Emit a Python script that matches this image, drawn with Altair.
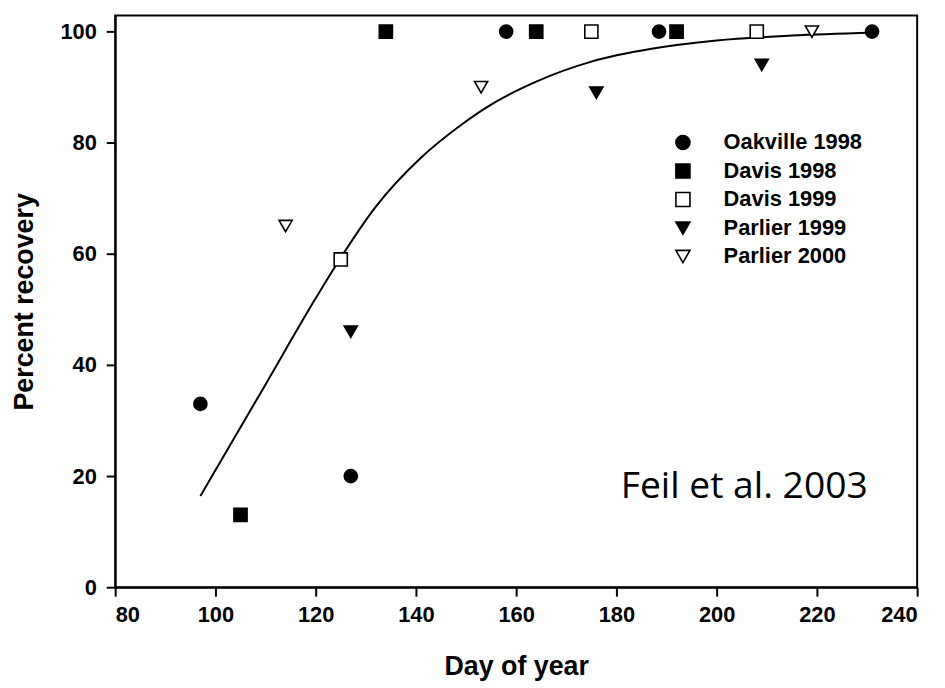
import altair as alt
import pandas as pd

# ---- data ----
series_names = ["Oakville 1998", "Davis 1998", "Davis 1999", "Parlier 1999", "Parlier 2000"]
series_shapes = ["circle", "square", "square", "triangle-down", "triangle-down"]
series_fills = ["black", "black", "white", "black", "white"]
series_strokes = ["black", "black", "black", "black", "black"]

oak98_day = [97, 127, 158, 188.5, 231]
oak98_pct = [33, 20, 100, 100, 100]
dav98_day = [105, 134, 164, 192]
dav98_pct = [13, 100, 100, 100]
dav99_day = [125, 175, 208]
dav99_pct = [59, 100, 100]
par99_day = [127, 176, 209]
par99_pct = [46, 89, 94]
par00_day = [114, 153, 219]
par00_pct = [65, 90, 100]

curve_day = [97, 110, 120, 125, 132, 141, 149, 156, 164, 175, 187, 200, 215, 231]
curve_pct = [16.4, 36.5, 52.0, 59.3, 68.5, 77.3, 83.2, 87.4, 91.0, 94.6, 96.9, 98.4, 99.3, 99.8]

note_text = ["Feil et al. 2003"]
note_day = [205.5]
note_pct = [16]

x_ticks = [80, 100, 120, 140, 160, 180, 200, 220, 240]
y_ticks = [0, 20, 40, 60, 80, 100]

# ---- tables ----
rows = []
for name, days, pcts in zip(series_names,
                            [oak98_day, dav98_day, dav99_day, par99_day, par00_day],
                            [oak98_pct, dav98_pct, dav99_pct, par99_pct, par00_pct]):
    for d, p in zip(days, pcts):
        rows.append({"series": name, "day": d, "pct": p})
pts = pd.DataFrame(rows)
curve = pd.DataFrame({"day": curve_day, "pct": curve_pct})
note = pd.DataFrame({"day": note_day, "pct": note_pct, "label": note_text})

BOLD = "Liberation Sans"

xscale = alt.Scale(domain=[80, 240], nice=False, zero=False)
yscale = alt.Scale(domain=[0, 102.9], nice=False, zero=False)

xaxis = alt.Axis(title="Day of year", values=x_ticks, format="d", grid=False,
                 tickSize=9, labelPadding=9, titlePadding=28)
yaxis = alt.Axis(title="Percent recovery", values=y_ticks, format="d", grid=False,
                 tickSize=9, labelPadding=10, titlePadding=22)

X = alt.X("day:Q", scale=xscale, axis=xaxis)
Y = alt.Y("pct:Q", scale=yscale, axis=yaxis)

legend_kw = dict(orient="none", legendX=561, legendY=117, padding=0,
                 labelFont=BOLD, labelFontSize=22, labelFontWeight="bold", labelColor="black",
                 symbolSize=200, symbolStrokeWidth=1.6,
                 symbolOpacity=1, rowPadding=6.7, labelOffset=30)

line = alt.Chart(curve).mark_line(color="black", strokeWidth=2, interpolate="monotone").encode(
    x=X, y=Y)

points = alt.Chart(pts).mark_point(size=175, strokeWidth=1.6, opacity=1).encode(
    x=X, y=Y,
    shape=alt.Shape("series:N", title=None,
                    scale=alt.Scale(domain=series_names, range=series_shapes),
                    legend=alt.Legend(**legend_kw)),
    fill=alt.Fill("series:N", title=None,
                  scale=alt.Scale(domain=series_names, range=series_fills),
                  legend=alt.Legend(**legend_kw)),
    stroke=alt.Stroke("series:N", title=None,
                      scale=alt.Scale(domain=series_names, range=series_strokes),
                      legend=alt.Legend(**legend_kw)),
)

text = alt.Chart(note).mark_text(font="Open Sans", fontSize=37.5, align="center",
                                 baseline="alphabetic", color="black").encode(
    x=X, y=Y, text="label:N")

chart = alt.layer(line, points, text).properties(
    width=808, height=576,
    autosize=alt.AutoSizeParams(type="none"),
    padding={"left": 108, "top": 5, "right": 20, "bottom": 99},
).configure_view(stroke="black", strokeWidth=2).configure_axis(
    domainColor="black", domainWidth=2, tickColor="black", tickWidth=2,
    labelFont=BOLD, labelFontSize=22, labelFontWeight="bold", labelColor="black",
    titleFont=BOLD, titleFontSize=27, titleFontWeight="bold", titleColor="black",
)

chart.save("out.html", embed_options={"renderer": "svg", "actions": False})
